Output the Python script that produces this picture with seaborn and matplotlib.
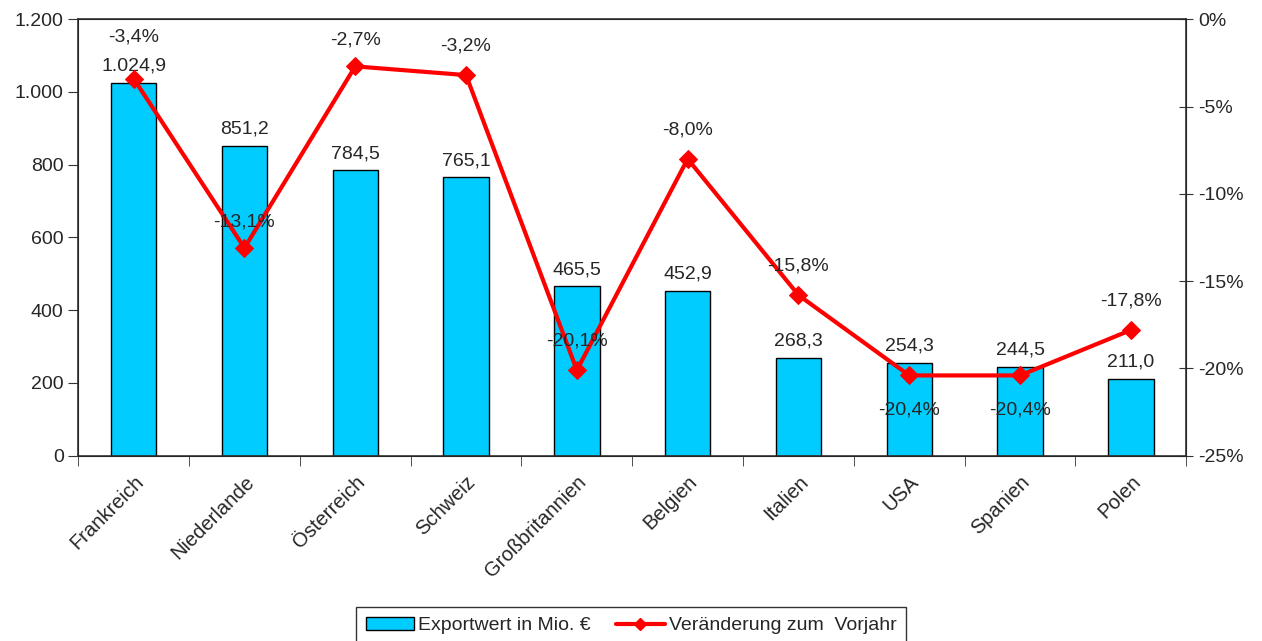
import matplotlib
matplotlib.use('Agg')
import matplotlib.pyplot as plt
import seaborn as sns
import pandas as pd
from matplotlib.ticker import FuncFormatter, FixedLocator
from matplotlib.lines import Line2D
from matplotlib.patches import Patch

LAENDER = ['Frankreich', 'Niederlande', 'Österreich', 'Schweiz', 'Großbritannien',
           'Belgien', 'Italien', 'USA', 'Spanien', 'Polen']
EXPORT = [1024.9, 851.2, 784.5, 765.1, 465.5, 452.9, 268.3, 254.3, 244.5, 211.0]
VERAENDERUNG = [-3.4, -13.1, -2.7, -3.2, -20.1, -8.0, -15.8, -20.4, -20.4, -17.8]

# label offsets (points) for the percent labels
PCT_OFFSETS = [30, 19, 19, 21, 21, 21, 21, -25, -25, 21]


def de_num(v, dec=0):
    s = f'{v:,.{dec}f}'
    return s.replace(',', 'X').replace('.', ',').replace('X', '.')


sns.set_style('white')
plt.rcParams['font.family'] = ['Liberation Sans', 'DejaVu Sans']
plt.rcParams['font.size'] = 14

df = pd.DataFrame({'Land': LAENDER, 'Export': EXPORT, 'Veraenderung': VERAENDERUNG})

fig = plt.figure(figsize=(12.62, 6.41), dpi=100)
ax = fig.add_axes([0.062, 0.289, 0.878, 0.681])
sns.barplot(data=df, x='Land', y='Export', color='#00CCFF', edgecolor='black',
            linewidth=1, width=0.41, saturation=1, ax=ax)
ax.set_xlim(-0.5, len(LAENDER) - 0.5)
ax.set_ylim(0, 1200)
ax.set_yticks(range(0, 1201, 200))
ax.yaxis.set_major_formatter(FuncFormatter(lambda v, p: de_num(v)))
ax.set_xlabel('')
ax.set_ylabel('')
ax.set_xticks(range(len(LAENDER)))
ax.set_xticklabels(LAENDER, rotation=45, ha='right', rotation_mode='anchor', fontsize=14.5)
ax.tick_params(axis='x', length=0, pad=12)
ax.xaxis.set_minor_locator(FixedLocator([i - 0.5 for i in range(len(LAENDER) + 1)]))
ax.tick_params(axis='x', which='minor', length=7, direction='out', color='#333333', bottom=True)
ax.tick_params(axis='y', length=7, direction='out', left=True, color='#333333')
for s in ax.spines.values():
    s.set_color('#333333')
    s.set_linewidth(1.2)

for i, v in enumerate(EXPORT):
    ax.annotate(de_num(v, 1), (i, v), xytext=(0, 6), textcoords='offset points',
                ha='center', va='bottom')

ax2 = ax.twinx()
sns.lineplot(x=list(range(len(LAENDER))), y=VERAENDERUNG, color='#FF0000', linewidth=3,
             marker='D', markersize=9, markeredgecolor='#FF0000', ax=ax2)
ax2.set_ylim(-25, 0)
ax2.set_yticks(range(-25, 1, 5))
ax2.yaxis.set_major_formatter(FuncFormatter(lambda v, p: f'{int(v)}%'))
ax2.tick_params(axis='y', length=10, direction='inout', right=True, color='#333333')
ax2.set_xlim(-0.5, len(LAENDER) - 0.5)

for i, (v, off) in enumerate(zip(VERAENDERUNG, PCT_OFFSETS)):
    ax2.annotate(de_num(v, 1) + '%', (i, v), xytext=(0, off), textcoords='offset points',
                 ha='center', va='center')

handles = [Patch(facecolor='#00CCFF', edgecolor='black', label='Exportwert in Mio. €'),
           Line2D([], [], color='#FF0000', linewidth=3, marker='D', markersize=6,
                  label='Veränderung zum  Vorjahr')]
fig.legend(handles=handles, loc='upper center', bbox_to_anchor=(0.5, 0.068), ncol=2,
           frameon=True, fancybox=False, edgecolor='black', handlelength=2.5,
           handletextpad=0.2, columnspacing=1.3, fontsize=14, borderpad=0.5)

fig.savefig('out.png', dpi=100)
